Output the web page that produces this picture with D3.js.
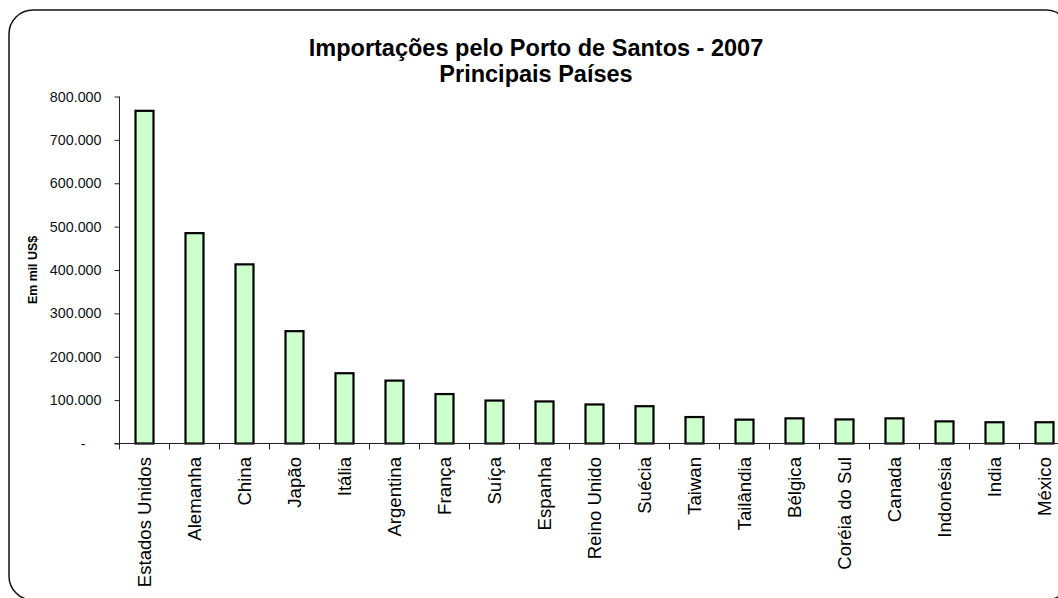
<!DOCTYPE html>
<html>
<head>
<meta charset="utf-8">
<script src="https://cdn.jsdelivr.net/npm/d3@7"></script>
<style>
  html, body { margin: 0; padding: 0; background: #fff; overflow: hidden; }
  svg { display: block; font-family: "Liberation Sans", Arial, sans-serif; }
</style>
</head>
<body>
<svg id="chart" width="1058" height="598"></svg>
<script>
// ---- data ----
const titleLines = ["Importações pelo Porto de Santos - 2007", "Principais Países"];
const yAxisTitle = "Em mil US$";
const countries = ["Estados Unidos", "Alemanha", "China", "Japão", "Itália", "Argentina", "França",
  "Suíça", "Espanha", "Reino Unido", "Suécia", "Taiwan", "Tailândia", "Bélgica", "Coréia do Sul",
  "Canada", "Indonésia", "India", "México"];
const imports = [767000, 485000, 413000, 259000, 162000, 145000, 114000,
  99000, 97000, 90000, 86000, 61000, 55000, 58000, 55500,
  58000, 51000, 49000, 49000];
const yTicks = [0, 100000, 200000, 300000, 400000, 500000, 600000, 700000, 800000];

// ---- layout ----
const svg = d3.select("#chart");
const x0 = 119.5, step = 50;
const x = d3.scaleBand().domain(countries)
  .range([x0, x0 + step * countries.length])
  .paddingInner(0.6).paddingOuter(0.3);
const y = d3.scaleLinear().domain([0, 800000]).range([443.5, 96.5]);

// chart area border (rounded, extends past right edge)
svg.append("rect")
  .attr("x", 9).attr("y", 10)
  .attr("width", 1061).attr("height", 590)
  .attr("rx", 24).attr("ry", 24)
  .attr("fill", "#fff").attr("stroke", "#111").attr("stroke-width", 1.5);

// title
const title = svg.append("text")
  .attr("text-anchor", "middle")
  .attr("font-weight", "bold").attr("font-size", 23.5).attr("fill", "#000");
titleLines.forEach((t, i) => {
  title.append("tspan").attr("x", 536).attr("y", 56 + i * 26).text(t);
});

// y axis title
svg.append("text")
  .attr("transform", "translate(36.5,270) rotate(-90)")
  .attr("text-anchor", "middle")
  .attr("font-weight", "bold").attr("font-size", 12.4).attr("fill", "#000")
  .text(yAxisTitle);

// bars
svg.append("g").selectAll("rect")
  .data(countries)
  .join("rect")
  .attr("x", d => x(d) + 1)
  .attr("width", x.bandwidth() - 2)
  .attr("y", (d, i) => y(imports[i]))
  .attr("height", (d, i) => y(0) - y(imports[i]))
  .attr("fill", "#CCFFCC")
  .attr("stroke", "#000")
  .attr("stroke-width", 2.2);

// y axis
const fmt = v => v === 0 ? "-" : d3.format(",")(v).replace(/,/g, ".");
const yAxis = svg.append("g")
  .attr("transform", `translate(${x0},0)`)
  .call(d3.axisLeft(y).tickValues(yTicks).tickSize(5).tickPadding(13).tickFormat(fmt));
yAxis.select(".domain").attr("stroke", "#222").attr("d", `M0,${y(800000)}V${y(0)}`);
yAxis.selectAll(".tick line").attr("stroke", "#222");
yAxis.selectAll(".tick text")
  .attr("font-size", 14.3).attr("fill", "#111")
  .attr("font-family", "'Liberation Sans', Arial, sans-serif")
  .attr("dx", d => d === 0 ? -16 : 0);

// x axis line and boundary ticks
const xEnd = x.range()[1];
svg.append("line")
  .attr("x1", x0 - 5).attr("x2", xEnd)
  .attr("y1", y(0)).attr("y2", y(0))
  .attr("stroke", "#222").attr("stroke-width", 1);
svg.append("g").selectAll("line")
  .data(d3.range(countries.length + 1))
  .join("line")
  .attr("x1", i => x0 + i * x.step()).attr("x2", i => x0 + i * x.step())
  .attr("y1", y(0)).attr("y2", y(0) + 6)
  .attr("stroke", "#222").attr("stroke-width", 1);

// x labels
svg.append("g").selectAll("text")
  .data(countries)
  .join("text")
  .attr("transform", d => `translate(${x(d) + x.bandwidth() / 2},457) rotate(-90)`)
  .attr("text-anchor", "end")
  .attr("dy", "0.35em")
  .attr("font-size", 18.6).attr("fill", "#000")
  .text(d => d);
</script>
</body>
</html>
